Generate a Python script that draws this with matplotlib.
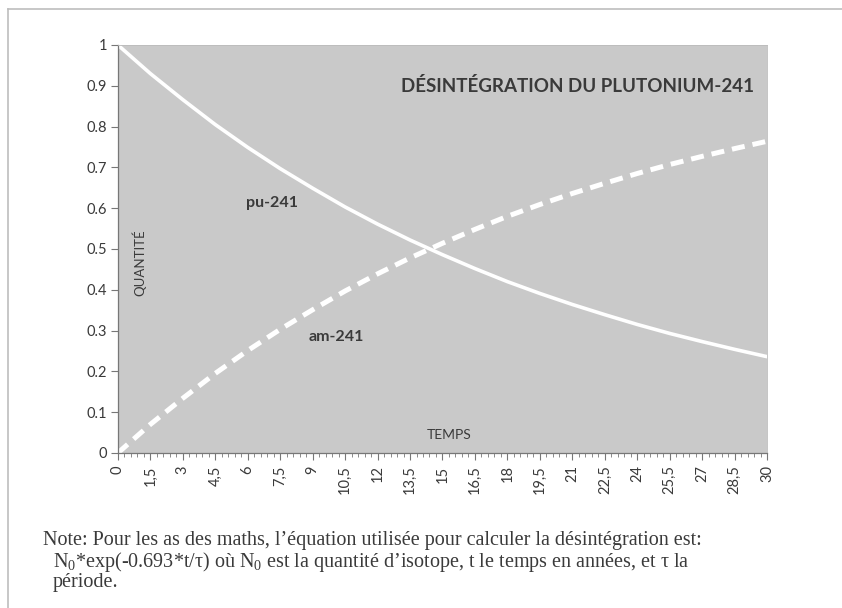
import matplotlib.pyplot as plt
import numpy as np
from matplotlib.ticker import MultipleLocator
from matplotlib.lines import Line2D

temps = [0, 1.5, 3, 4.5, 6, 7.5, 9, 10.5, 12, 13.5, 15, 16.5, 18, 19.5, 21,
         22.5, 24, 25.5, 27, 28.5, 30]
pu_241 = [1.0, 0.93, 0.866, 0.805, 0.749, 0.697, 0.649, 0.603, 0.561, 0.522, 0.486,
          0.452, 0.42, 0.391, 0.364, 0.339, 0.315, 0.293, 0.273, 0.254, 0.236]
am_241 = [0.0, 0.07, 0.134, 0.195, 0.251, 0.303, 0.351, 0.397, 0.439, 0.478, 0.514,
          0.548, 0.58, 0.609, 0.636, 0.661, 0.685, 0.707, 0.727, 0.746, 0.764]
xlabels = ["0", "1,5", "3", "4,5", "6", "7,5", "9", "10,5", "12", "13,5", "15",
           "16,5", "18", "19,5", "21", "22,5", "24", "25,5", "27", "28,5", "30"]
yticks = [0, 0.1, 0.2, 0.3, 0.4, 0.5, 0.6, 0.7, 0.8, 0.9, 1]
ylabels = ["0", "0.1", "0.2", "0.3", "0.4", "0.5", "0.6", "0.7", "0.8", "0.9", "1"]

texte = "#3a3a3a"
plt.rcParams['font.family'] = ['Lato', 'DejaVu Sans']
plt.rcParams['mathtext.fontset'] = 'custom'
plt.rcParams['mathtext.rm'] = 'Liberation Serif'
plt.rcParams['mathtext.it'] = 'Liberation Serif'

fig = plt.figure(figsize=(8.42, 6.08), dpi=100)
ax = fig.add_axes([0.140, 0.255, 0.771, 0.671])
ax.set_facecolor("#c9c9c9")

ax.plot(temps, pu_241, color="white", lw=2.6, solid_capstyle="round")
ax.plot(temps, am_241, color="white", lw=3.6, dashes=(2.6, 1.6))

ax.set_xlim(0, 30)
ax.set_ylim(0, 1)
ax.set_xticks(temps)
ax.set_xticklabels(xlabels, rotation=90, fontsize=10.5, color=texte)
ax.xaxis.set_minor_locator(MultipleLocator(0.3))
ax.set_yticks(yticks)
ax.set_yticklabels(ylabels, fontsize=10.5, color=texte)
ax.tick_params(axis="x", which="major", length=5, color="#777777", pad=4)
ax.tick_params(axis="x", which="minor", length=3, color="#777777")
ax.tick_params(axis="y", length=5, color="#777777", pad=3)

for s in ["top", "right"]:
    ax.spines[s].set_color("#bbbbbb")
    ax.spines[s].set_linewidth(0.6)
for s in ["left", "bottom"]:
    ax.spines[s].set_color("#777777")
    ax.spines[s].set_linewidth(0.9)

ax.text(29.4, 0.9, "DÉSINTÉGRATION DU PLUTONIUM-241", ha="right", va="center",
        fontsize=13.5, fontweight="bold", color=texte)
ax.text(5.9, 0.613, "pu-241", ha="left", va="center", fontsize=11.5,
        fontweight="bold", color=texte)
ax.text(8.8, 0.284, "am-241", ha="left", va="center", fontsize=11.5,
        fontweight="bold", color=texte)
ax.text(1.0, 0.466, "QUANTITÉ", rotation=90, ha="center", va="center",
        fontsize=9.5, color=texte)
ax.text(15.3, 0.045, "TEMPS", ha="center", va="center", fontsize=10, color=texte)

# cadre
fig.add_artist(Line2D([8 / 842, 1], [1 - 9 / 608, 1 - 9 / 608],
                      transform=fig.transFigure, color="#bdbdbd", lw=1.2))
fig.add_artist(Line2D([8 / 842, 8 / 842], [0, 1 - 9 / 608],
                      transform=fig.transFigure, color="#bdbdbd", lw=1.2))

note_font = ['Liberation Serif', 'DejaVu Serif']
fig.text(43 / 842, 1 - 541 / 608,
         "Note: Pour les as des maths, l’équation utilisée pour calculer la désintégration est:",
         family=note_font, fontsize=14.5, color=texte, va="center")
fig.text(53 / 842, 1 - 562 / 608,
         r"N$_0$*exp(-0.693*t/$\tau$) où N$_0$ est la quantité d’isotope, t le temps en années, et $\tau$ la",
         family=note_font, fontsize=14.5, color=texte, va="center")
fig.text(53 / 842, 1 - 583 / 608, "période.",
         family=note_font, fontsize=14.5, color=texte, va="center")

fig.savefig("out.png", dpi=100)
